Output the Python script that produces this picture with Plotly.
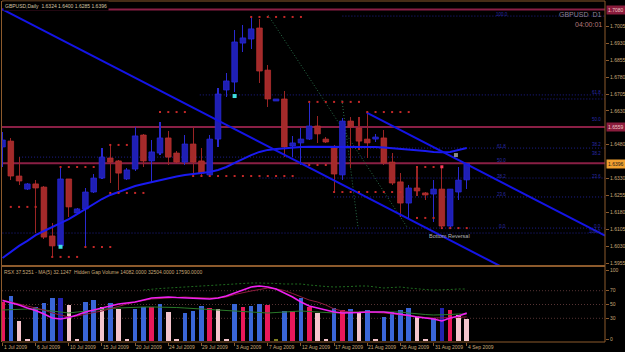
import plotly.graph_objects as go

W, H = 625, 352
FONT = "Liberation Sans, Arial, sans-serif"
FRAME = "#8c5a2c"
TXT = "#c8a878"

# ---------------- data ----------------
tick_idx = [0, 4, 8, 12, 16, 20, 24, 28, 32, 36, 40, 44, 48, 52, 56]
tick_text = ["1 Jul 2009", "6 Jul 2009", "10 Jul 2009", "15 Jul 2009", "20 Jul 2009",
             "24 Jul 2009", "29 Jul 2009", "3 Aug 2009", "7 Aug 2009", "12 Aug 2009",
             "17 Aug 2009", "21 Aug 2009", "26 Aug 2009", "31 Aug 2009", "4 Sep 2009"]

opens = [1.6470, 1.6496, 1.6341, 1.6283, 1.6306, 1.6292, 1.6075, 1.6031, 1.6328, 1.6177,
         1.6195, 1.6270, 1.6332, 1.6421, 1.6408, 1.6328, 1.6372, 1.6523, 1.6408, 1.6443,
         1.6510, 1.6443, 1.6403, 1.6483, 1.6408, 1.6346, 1.6505, 1.6723, 1.6758, 1.6931,
         1.6949, 1.6998, 1.6811, 1.6674, 1.6683, 1.6474, 1.6488, 1.6505, 1.6563, 1.6505,
         1.6465, 1.6346, 1.6585, 1.6554, 1.6505, 1.6505, 1.6510, 1.6403, 1.6315, 1.6221,
         1.6288, 1.6266, 1.6261, 1.6283, 1.6119, 1.6270, 1.6324]
highs = [1.6536, 1.6510, 1.6425, 1.6310, 1.6323, 1.6295, 1.6133, 1.6381, 1.6330, 1.6200,
         1.6288, 1.6350, 1.6465, 1.6479, 1.6410, 1.6377, 1.6559, 1.6528, 1.6501, 1.6581,
         1.6541, 1.6450, 1.6523, 1.6559, 1.6465, 1.6523, 1.6732, 1.6798, 1.6989, 1.7011,
         1.7047, 1.7038, 1.6834, 1.6685, 1.6718, 1.6519, 1.6554, 1.6665, 1.6607, 1.6514,
         1.6479, 1.6599, 1.6603, 1.6603, 1.6621, 1.6528, 1.6545, 1.6443, 1.6354, 1.6301,
         1.6381, 1.6268, 1.6323, 1.6386, 1.6285, 1.6381, 1.6400]
lows = [1.6381, 1.6323, 1.6301, 1.6279, 1.6088, 1.6062, 1.5982, 1.6026, 1.6159, 1.6172,
        1.6026, 1.6266, 1.6330, 1.6310, 1.6279, 1.6323, 1.6363, 1.6381, 1.6315, 1.6434,
        1.6390, 1.6399, 1.6390, 1.6346, 1.6337, 1.6337, 1.6470, 1.6692, 1.6714, 1.6891,
        1.6905, 1.6754, 1.6647, 1.6672, 1.6425, 1.6425, 1.6390, 1.6501, 1.6488, 1.6488,
        1.6270, 1.6323, 1.6377, 1.6457, 1.6421, 1.6492, 1.6390, 1.6301, 1.6159, 1.6150,
        1.6252, 1.6235, 1.6137, 1.6115, 1.6115, 1.6235, 1.6285]
closes = [1.6501, 1.6341, 1.6319, 1.6306, 1.6288, 1.6070, 1.6031, 1.6328, 1.6204, 1.6195,
          1.6270, 1.6332, 1.6425, 1.6403, 1.6354, 1.6368, 1.6519, 1.6408, 1.6448, 1.6510,
          1.6425, 1.6403, 1.6483, 1.6403, 1.6354, 1.6505, 1.6705, 1.6763, 1.6936, 1.6954,
          1.6994, 1.6807, 1.6683, 1.6683, 1.6470, 1.6488, 1.6505, 1.6563, 1.6528, 1.6492,
          1.6350, 1.6585, 1.6559, 1.6496, 1.6488, 1.6514, 1.6399, 1.6310, 1.6221, 1.6288,
          1.6275, 1.6257, 1.6283, 1.6119, 1.6283, 1.6323, 1.6396]
ma_line = [1.5977, 1.6004, 1.6031, 1.6053, 1.6079, 1.6097, 1.6115, 1.6133, 1.6150, 1.6172,
           1.6195, 1.6217, 1.6239, 1.6257, 1.6270, 1.6283, 1.6297, 1.6306, 1.6315, 1.6323,
           1.6332, 1.6339, 1.6346, 1.6350, 1.6354, 1.6359, 1.6368, 1.6381, 1.6399, 1.6417,
           1.6434, 1.6448, 1.6457, 1.6461, 1.6465, 1.6468, 1.6470, 1.6471, 1.6471, 1.6472,
           1.6472, 1.6472, 1.6472, 1.6472, 1.6472, 1.6470, 1.6468, 1.6465, 1.6463, 1.6461,
           1.6457, 1.6452, 1.6448, 1.6446, 1.6448, 1.6457, 1.6465]

volumes = [31200, 36000, 16000, 1600, 27200, 30400, 34400, 34400, 28800, 1500,
           31200, 32800, 27200, 30400, 25600, 1400, 25600, 27200, 27200, 29600,
           23200, 1500, 22400, 24000, 28000, 26400, 25600, 1600, 29600, 27200,
           28000, 29600, 28800, 1400, 24000, 24000, 34400, 27200, 22400, 1500,
           26400, 24800, 25600, 23200, 24800, 1300, 19200, 23200, 24800, 26400,
           20000, 1600, 18400, 26400, 24800, 20800, 17590]
vol_kind = ["r", "b", "p", "p", "b", "b", "b", "d", "p", "p",
            "b", "b", "p", "b", "p", "p", "b", "b", "r", "b",
            "p", "p", "b", "b", "b", "r", "p", "p", "b", "r",
            "b", "b", "r", "o", "b", "r", "b", "r", "p", "p",
            "b", "r", "b", "p", "b", "p", "b", "b", "b", "b",
            "p", "p", "b", "d", "r", "p", "p"]
vol_ma = [24800, 25200, 25600, 25600, 25600, 24800, 24000, 22800, 22400, 23200,
          24000, 24800, 25600, 26000, 26400, 26800, 27200, 27200, 27200, 27200,
          27200, 26800, 26400, 26000, 25600, 25200, 24800, 24400, 24000, 23600,
          23200, 22800, 22400, 22800, 23200, 23600, 24000, 23600, 23200, 22800,
          22400, 22800, 23200, 23200, 23200, 23200, 23200, 23200, 23200, 22400,
          21600, 21200, 20800, 20800, 21200, 21600, 21600]
vol_band = [None] * 17 + [40800, 41600, 42000, 42400, 42800, 43200, 44000, 44400,
                          44800, 45200, 45600, 46000, 46400, 46400, 46400, 46400,
                          46000, 45600, 45600, 45600, 44800, 44000, 43600, 43200,
                          43200, 43600, 44000, 44000, 43200, 42400, 42800, 43200,
                          42400, 41600, 41200, 40800, 40800, 41200, 41600, 41600]
rsx = [55.8, 52.9, 49.3, 44.9, 41.3, 36.2, 30.4, 29.0, 31.2, 34.8,
       39.1, 42.0, 44.9, 47.8, 50.7, 52.2, 53.6, 56.5, 59.4, 60.1,
       60.9, 60.1, 59.4, 58.7, 58.0, 58.0, 59.4, 62.3, 66.7, 71.0,
       75.4, 76.8, 75.4, 72.5, 66.7, 60.9, 53.6, 47.8, 44.9, 42.0,
       39.1, 37.7, 37.7, 38.4, 39.1, 39.1, 39.1, 37.7, 36.2, 34.1,
       31.9, 30.4, 29.0, 26.1, 30.4, 33.3, 37.5]
rsx_ma = [56.5, 53.6, 50.7, 47.8, 44.9, 42.0, 37.7, 34.8, 31.9, 33.3,
          36.2, 38.4, 40.6, 44.2, 47.8, 50.7, 53.6, 55.8, 58.0, 58.7,
          59.4, 60.1, 60.9, 60.1, 59.4, 59.4, 59.4, 60.9, 64.5, 67.4,
          69.6, 71.7, 73.9, 72.5, 70.3, 65.9, 60.9, 56.5, 53.6, 49.3,
          43.5, 40.6, 39.1, 39.1, 39.1, 38.4, 37.7, 36.2, 34.8, 33.3,
          31.9, 31.2, 30.4, 30.4, 30.4, 31.2, 32.1]
rsx_levels = [30, 50, 70]
rsx_ticks = [0, 30, 50, 70, 100]

# visible price ticks (1.6555 and 1.6405 are hidden behind the highlighted labels)
price_ticks = [1.7005, 1.6930, 1.6855, 1.6780, 1.6705, 1.6630, 1.6480,
               1.6330, 1.6255, 1.6180, 1.6105, 1.6030, 1.5955]

# chart objects (bar index, price)
trend_a_x, trend_a_y = [-0.06, 60.0], [1.7082, 1.5942]
trend_b_x, trend_b_y = [43.93, 72.68], [1.6622, 1.6077]
green_a_x, green_a_y = [32.03, 48.79], [1.7056, 1.6115]
green_b_x, green_b_y = [40.95, 42.88], [1.6678, 1.6115]
hlines = [1.7080, 1.6559, 1.6398]
fib_lines = [(1.7051, 41.0, 72.7), (1.6701, 23.8, 72.7), (1.6683, 65.0, 72.7),
             (1.6465, 40.0, 72.7), (1.6425, 2.0, 48.0), (1.6332, 31.0, 72.7),
             (1.6248, 40.0, 72.7), (1.6110, 40.0, 72.7), (1.6088, 0.0, 72.7)]
fib_mid_labels = [("61.8", 1.6474), ("50.0", 1.6412), ("38.2", 1.6341),
                  ("23.6", 1.6257), ("0.0", 1.6119)]
fib_right_labels = [("61.8", 1.6710), ("50.0", 1.6590), ("38.2", 1.6483),
                    ("38.2", 1.6439), ("23.6", 1.6341), ("0.0", 1.6119), ("100.0", 1.6097)]
sr_dots = [(1.7047, 30, 36), (1.6670, 37, 43), (1.6625, 19, 22), (1.6625, 44, 49),
           (1.6479, 13, 15), (1.6390, 37, 39), (1.6381, 7, 11), (1.6381, 50, 53),
           (1.6341, 23, 35), (1.6270, 40, 48), (1.6266, 13, 17), (1.6204, 1, 4),
           (1.6155, 50, 52), (1.6110, 53, 56), (1.6026, 10, 13), (1.5982, 6, 9)]
cyan_x, cyan_y = [7, 28], [1.6027, 1.6696]

# ---------------- helpers ----------------
def px(x):
    return x / W

def py(y):
    return 1 - y / H

X0, X1 = 2, 605
XR = [-0.06, 72.68]
YR = [1.59417, 1.71178]

n = len(opens)
idx = list(range(n))
bull = [c >= o for o, c in zip(opens, closes)]
body_base = [min(o, c) for o, c in zip(opens, closes)]
body_h = [max(abs(c - o), 0.0006) for o, c in zip(opens, closes)]
body_col = ["#1f1fb4" if b else "#a42a2a" for b in bull]
body_line = ["#2a2ae0" if b else "#bd3232" for b in bull]
wick_col = ["#2a2ad0" if b else "#9a2424" for b in bull]

vol_colors = {"b": "#3a66d8", "p": "#f4c4cc", "r": "#e8185a", "d": "#2222b0", "o": "#808020"}

fig = go.Figure()

# wicks
fig.add_trace(go.Bar(x=idx, y=[h - l for h, l in zip(highs, lows)], base=lows, width=0.13,
                     marker=dict(color=wick_col, line=dict(width=0)),
                     xaxis="x", yaxis="y", hoverinfo="skip"))
# bodies
fig.add_trace(go.Bar(x=idx, y=body_h, base=body_base, width=0.68,
                     marker=dict(color=body_col, line=dict(color=body_line, width=0.7)),
                     xaxis="x", yaxis="y", hoverinfo="skip"))
# moving average
fig.add_trace(go.Scatter(x=idx, y=ma_line, mode="lines",
                         line=dict(color="#1a1af0", width=2), xaxis="x", yaxis="y"))
# trend lines
fig.add_trace(go.Scatter(x=trend_a_x, y=trend_a_y, mode="lines",
                         line=dict(color="#1414e6", width=2), xaxis="x", yaxis="y"))
fig.add_trace(go.Scatter(x=trend_b_x, y=trend_b_y, mode="lines",
                         line=dict(color="#1414e6", width=2), xaxis="x", yaxis="y"))
# support / resistance dots
sx, sy = [], []
for p, a, b in sr_dots:
    for i in range(a, b + 1):
        sx.append(i)
        sy.append(p)
fig.add_trace(go.Scatter(x=sx, y=sy, mode="markers",
                         marker=dict(symbol="square", size=2, color="#c42828", line=dict(width=0)),
                         xaxis="x", yaxis="y"))
# arrows / markers
fig.add_trace(go.Scatter(x=cyan_x, y=cyan_y, mode="markers",
                         marker=dict(symbol="square", size=4, color="#40e0e0", line=dict(width=0)),
                         xaxis="x", yaxis="y"))
fig.add_trace(go.Scatter(x=[53.0], y=[1.6382], mode="markers",
                         marker=dict(symbol="square", size=3, color="#ff3a5a", line=dict(width=0)),
                         xaxis="x", yaxis="y"))
fig.add_trace(go.Scatter(x=[54.7], y=[1.6434], mode="markers",
                         marker=dict(symbol="square", size=4, color="#8c8c8c", line=dict(width=0)),
                         xaxis="x", yaxis="y"))

# volume pane
fig.add_trace(go.Bar(x=idx, y=volumes, width=0.55,
                     marker=dict(color=[vol_colors[k] for k in vol_kind], line=dict(width=0)),
                     xaxis="x", yaxis="y2", hoverinfo="skip"))
fig.add_trace(go.Scatter(x=idx, y=vol_ma, mode="lines",
                         line=dict(color="#2a7a2a", width=1), xaxis="x", yaxis="y2"))
fig.add_trace(go.Scatter(x=idx, y=vol_band, mode="lines",
                         line=dict(color="#1f6a1f", width=1, dash="2px,2px"), xaxis="x", yaxis="y2"))
# RSX lines
fig.add_trace(go.Scatter(x=idx, y=rsx_ma, mode="lines",
                         line=dict(color="#8e1c3e", width=1), xaxis="x", yaxis="y3"))
fig.add_trace(go.Scatter(x=idx, y=rsx, mode="lines",
                         line=dict(color="#f020f0", width=1.6), xaxis="x", yaxis="y3"))

# ---------------- shapes ----------------
shapes = []
for p, a, b in fib_lines:
    shapes.append(dict(type="line", xref="x", yref="y", x0=a, x1=b, y0=p, y1=p, layer="below",
                       line=dict(color="#1e1e8e", width=1, dash="1px,2px")))
for p in hlines:
    shapes.append(dict(type="line", xref="paper", yref="y", x0=px(X0), x1=px(X1), y0=p, y1=p,
                       layer="below", line=dict(color="#8a1f45", width=2)))
for gx, gy in ((green_a_x, green_a_y), (green_b_x, green_b_y)):
    shapes.append(dict(type="line", xref="x", yref="y", x0=gx[0], x1=gx[1], y0=gy[0], y1=gy[1],
                       layer="below", line=dict(color="#2a6e4a", width=1, dash="1px,2px")))
for lv in rsx_levels:
    shapes.append(dict(type="line", xref="paper", yref="y3", x0=px(X0), x1=px(X1), y0=lv, y1=lv,
                       layer="below", line=dict(color="#553333", width=1, dash="1px,2px")))
# frame
shapes += [
    dict(type="line", xref="paper", yref="paper", x0=px(X0), x1=px(X1), y0=py(1), y1=py(1),
         line=dict(color=FRAME, width=1)),
    dict(type="line", xref="paper", yref="paper", x0=px(X0), x1=px(X1), y0=py(266), y1=py(266),
         line=dict(color=FRAME, width=2)),
    dict(type="line", xref="paper", yref="paper", x0=px(X0), x1=px(X1), y0=py(342), y1=py(342),
         line=dict(color=FRAME, width=1)),
    dict(type="line", xref="paper", yref="paper", x0=px(1.5), x1=px(1.5), y0=py(1), y1=py(342),
         line=dict(color=FRAME, width=1)),
    dict(type="line", xref="paper", yref="paper", x0=px(X1), x1=px(X1), y0=py(1), y1=py(342),
         line=dict(color=FRAME, width=1)),
]

# ---------------- annotations ----------------
def ann(text, x, y, size, color, xanchor="left", xref="paper", yref="paper", bg=None, pad=0):
    d = dict(text=text, x=x, y=y, xref=xref, yref=yref, showarrow=False, xanchor=xanchor,
             yanchor="middle", font=dict(family=FONT, size=size, color=color), borderpad=pad)
    if bg:
        d["bgcolor"] = bg
    return d

anns = []
header = "GBPUSD,Daily  %.4f %.4f %.4f %.4f" % (opens[-1], highs[-1], lows[-1], closes[-1])
anns.append(ann(header, px(3), py(6.5), 5, "#d4c4a4", bg="#000000", pad=1))
anns.append(ann("GBPUSD  D1", px(603), py(15), 7, "#8e8096", xanchor="right"))
anns.append(ann("04:00:01", px(603), py(24.5), 7, "#b47a7a", xanchor="right"))
anns.append(ann("100.0", 60.3, 1.7060, 4.5, "#2a2aa8", xanchor="center", xref="x", yref="y"))
for t, p in fib_mid_labels:
    anns.append(ann(t, 60.9, p, 4.5, "#2a2aa8", xanchor="right", xref="x", yref="y"))
for t, p in fib_right_labels:
    anns.append(ann(t, 72.3, p, 4.5, "#2a2aa8", xanchor="right", xref="x", yref="y"))
anns.append(ann("Bottom Reversal", 53.9, 1.6075, 5.5, "#b4b4b4", xanchor="center", xref="x", yref="y"))
# highlighted price labels
anns.append(ann("%.4f" % hlines[0], px(606), hlines[0], 5, "#f0c8c8", xref="paper", yref="y",
                bg="#8a1c3c", pad=1))
anns.append(ann("%.4f" % hlines[1], px(606), hlines[1], 5, "#f0c8c8", xref="paper", yref="y",
                bg="#8a1c3c", pad=1))
anns.append(ann("%.4f" % closes[-1], px(606), closes[-1], 5, "#1a1a1a", xref="paper", yref="y",
                bg="#f0a030", pad=1))
# indicator header
anns.append(ann("RSX %.4f - MA(5) %.4f  Hidden Gap Volume 14082.0000 32504.0000 17590.0000"
                % (37.5251, 32.1247), px(3), py(272), 5, TXT))
# date labels
for i, t in zip(tick_idx, tick_text):
    anns.append(dict(text=t, x=i, y=py(346.5), xref="x", yref="paper", showarrow=False,
                     xanchor="left", yanchor="middle", xshift=-1,
                     font=dict(family=FONT, size=5, color=TXT)))

fig.update_layout(
    width=W, height=H, autosize=False,
    margin=dict(l=0, r=0, t=0, b=0, pad=0),
    paper_bgcolor="#000000", plot_bgcolor="#000000",
    showlegend=False, barmode="overlay", bargap=0,
    font=dict(family=FONT, size=5, color=TXT),
    xaxis=dict(domain=[px(X0), px(X1)], range=XR, anchor="y2", showgrid=False, zeroline=False,
               showline=False, ticks="outside", tickvals=tick_idx, ticklen=3, tickcolor=FRAME,
               showticklabels=False, fixedrange=True),
    yaxis=dict(domain=[py(266), py(1)], range=YR, side="right", anchor="x", showgrid=False,
               zeroline=False, showline=False, ticks="outside", ticklen=3, tickcolor=FRAME,
               tickvals=price_ticks, ticktext=["%.4f" % v for v in price_ticks],
               tickfont=dict(family=FONT, size=5, color=TXT), fixedrange=True),
    yaxis2=dict(domain=[py(342), py(267)], range=[-800, 59200], anchor="x", showgrid=False,
                zeroline=False, showline=False, showticklabels=False, ticks="", fixedrange=True),
    yaxis3=dict(overlaying="y2", range=[-4.35, 104.35], side="right", anchor="x", showgrid=False,
                zeroline=False, showline=False, ticks="outside", ticklen=3, tickcolor=FRAME,
                tickvals=rsx_ticks, ticktext=[str(v) for v in rsx_ticks],
                tickfont=dict(family=FONT, size=5, color=TXT), fixedrange=True),
    shapes=shapes, annotations=anns,
)

fig.write_html("out.html", config={"displayModeBar": False, "staticPlot": True})
